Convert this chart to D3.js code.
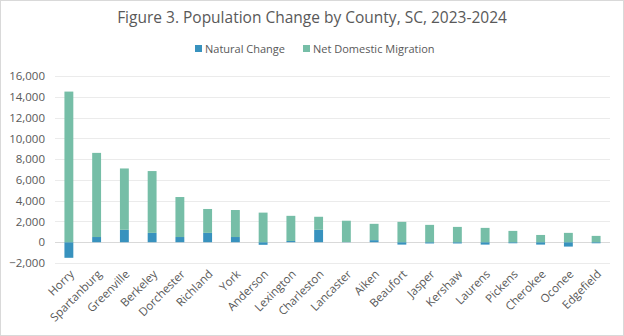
<!DOCTYPE html>
<html lang="en">
<head>
  <meta charset="UTF-8">
  <title>Population Change by County, SC, 2023-2024</title>
  <script src="https://d3js.org/d3.v7.min.js"></script>
  <style>
    body { margin: 0; background: #fff; }
    text { font-family: "Open Sans", "Liberation Sans", sans-serif; fill: #595959; }
  </style>
</head>
<body>
  <script>
    // County data: components of population change
    const counties = ["Horry", "Spartanburg", "Greenville", "Berkeley", "Dorchester", "Richland", "York",
      "Anderson", "Lexington", "Charleston", "Lancaster", "Aiken", "Beaufort", "Jasper", "Kershaw",
      "Laurens", "Pickens", "Cherokee", "Oconee", "Edgefield"];
    const naturalChange = [-1500, 500, 1200, 900, 500, 900, 500, -250, 120, 1200, 20, 200, -230, -120, -120, -230, -100, -230, -420, -100];
    const netDomestic = [14500, 8100, 5900, 5950, 3850, 2300, 2600, 2850, 2420, 1250, 2050, 1570, 1960, 1670, 1475, 1380, 1090, 700, 900, 610];
    const yTicks = [-2000, 0, 2000, 4000, 6000, 8000, 10000, 12000, 14000, 16000];
    const seriesNames = ["Natural Change", "Net Domestic Migration"];
    const colors = ["#3892be", "#76bea7"];

    const width = 624, height = 336;
    const margin = { top: 76, right: 14, bottom: 73, left: 55 };

    const svg = d3.select("body").append("svg")
      .attr("width", width)
      .attr("height", height);

    // chart frame
    svg.append("rect")
      .attr("x", 0.5).attr("y", 0.5)
      .attr("width", width - 1).attr("height", height - 1)
      .attr("fill", "#fff").attr("stroke", "#d9d9d9");

    const x = d3.scaleBand()
      .domain(counties)
      .range([margin.left, width - margin.right])
      .paddingInner(0.68)
      .paddingOuter(0.34);

    const y = d3.scaleLinear()
      .domain([-2000, 16000])
      .range([height - margin.bottom, margin.top]);

    // gridlines
    svg.append("g")
      .selectAll("line")
      .data(yTicks)
      .join("line")
      .attr("x1", margin.left).attr("x2", width - margin.right)
      .attr("y1", d => Math.round(y(d)) + 0.5).attr("y2", d => Math.round(y(d)) + 0.5)
      .attr("stroke", d => d === 0 ? "#d9d9d9" : "#ebebeb")
      .attr("stroke-width", 1);

    // y axis labels
    const yAxis = svg.append("g")
      .attr("transform", `translate(${margin.left - 10},0)`)
      .call(d3.axisLeft(y).tickValues(yTicks).tickSize(0).tickFormat(d3.format(",")));
    yAxis.select(".domain").remove();
    yAxis.selectAll("text")
      .attr("x", 0)
      .style("font-size", "11.5px")
      .style("fill", "#595959");

    // stacked bars: positives stack up from zero, negatives go down
    const segments = [];
    counties.forEach((c, i) => {
      let pos = 0, neg = 0;
      [naturalChange[i], netDomestic[i]].forEach((v, k) => {
        if (v >= 0) { segments.push({ county: c, k, y0: pos, y1: pos + v }); pos += v; }
        else { segments.push({ county: c, k, y0: neg + v, y1: neg }); neg += v; }
      });
    });

    svg.append("g")
      .selectAll("rect")
      .data(segments)
      .join("rect")
      .attr("x", d => x(d.county))
      .attr("width", x.bandwidth())
      .attr("y", d => y(d.y1))
      .attr("height", d => Math.max(0, y(d.y0) - y(d.y1)))
      .attr("fill", d => colors[d.k]);

    // x axis labels, rotated
    svg.append("g")
      .selectAll("text")
      .data(counties)
      .join("text")
      .attr("transform", d => `translate(${x(d) + x.bandwidth() / 2 + 3},${height - margin.bottom + 9}) rotate(-45)`)
      .attr("text-anchor", "end")
      .attr("dy", "0.35em")
      .style("font-size", "11.5px")
      .text(d => d);

    // title
    svg.append("text")
      .attr("x", width / 2)
      .attr("y", 23)
      .attr("text-anchor", "middle")
      .style("font-size", "15.5px")
      .text("Figure 3. Population Change by County, SC, 2023-2024");

    // legend
    const legend = svg.append("g").attr("transform", "translate(195,49)");
    const items = legend.selectAll("g")
      .data(seriesNames)
      .join("g")
      .attr("transform", (d, i) => `translate(${i * 108},0)`);
    items.append("rect")
      .attr("x", 0).attr("y", -4)
      .attr("width", 7).attr("height", 7)
      .attr("fill", (d, i) => colors[i]);
    items.append("text")
      .attr("x", 10)
      .attr("dy", "0.35em")
      .style("font-size", "11px")
      .text(d => d);
  </script>
</body>
</html>
